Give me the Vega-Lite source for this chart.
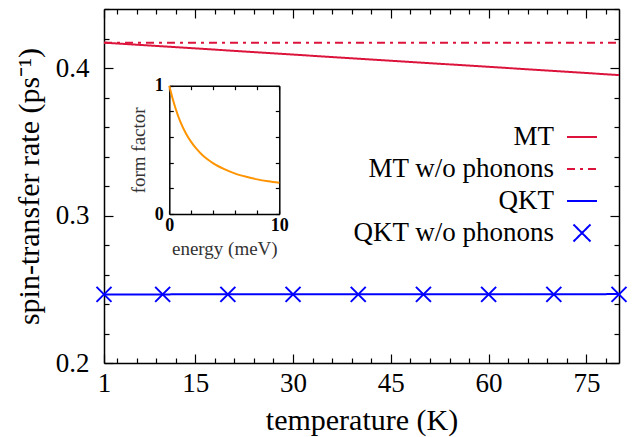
{
  "$schema": "https://vega.github.io/schema/vega-lite/v6.json",
  "width": 515,
  "height": 354,
  "autosize": "none",
  "padding": {"left": 104, "top": 9, "right": 15, "bottom": 74},
  "config": {
    "view": {"stroke": null},
    "font": "Liberation Serif",
    "axis": {
      "grid": false,
      "domainColor": "black",
      "domainWidth": 1.5,
      "tickColor": "black",
      "tickWidth": 1.2,
      "labelColor": "black",
      "titleColor": "black",
      "labelFont": "Liberation Serif",
      "titleFont": "Liberation Serif",
      "titleFontWeight": "normal"
    },
    "legend": {
      "labelFont": "Liberation Serif",
      "labelFontSize": 27,
      "labelColor": "black",
      "labelAlign": "right",
      "labelOffset": -44,
      "labelLimit": 500,
      "symbolSize": 900,
      "symbolStrokeWidth": 2,
      "symbolType": "stroke",
      "padding": 0,
      "rowPadding": 3
    }
  },
  "datasets": {
    "main": [
      {"T": 1, "rate": 0.4172, "series": "MT"},
      {"T": 20, "rate": 0.4119, "series": "MT"},
      {"T": 40, "rate": 0.4063, "series": "MT"},
      {"T": 60, "rate": 0.4008, "series": "MT"},
      {"T": 80, "rate": 0.3952, "series": "MT"},
      {"T": 1, "rate": 0.4172, "series": "MT w/o phonons"},
      {"T": 80, "rate": 0.4172, "series": "MT w/o phonons"},
      {"T": 1, "rate": 0.2465, "series": "QKT"},
      {"T": 80, "rate": 0.2467, "series": "QKT"}
    ],
    "markers": [
      {"T": 1, "rate": 0.2465, "series": "QKT w/o phonons"},
      {"T": 10, "rate": 0.2465, "series": "QKT w/o phonons"},
      {"T": 20, "rate": 0.2465, "series": "QKT w/o phonons"},
      {"T": 30, "rate": 0.2465, "series": "QKT w/o phonons"},
      {"T": 40, "rate": 0.2465, "series": "QKT w/o phonons"},
      {"T": 50, "rate": 0.2465, "series": "QKT w/o phonons"},
      {"T": 60, "rate": 0.2465, "series": "QKT w/o phonons"},
      {"T": 70, "rate": 0.2465, "series": "QKT w/o phonons"},
      {"T": 80, "rate": 0.2465, "series": "QKT w/o phonons"}
    ],
    "inset": [
      {"E": 0, "ff": 1.0},
      {"E": 0.3, "ff": 0.9},
      {"E": 0.6, "ff": 0.815},
      {"E": 1.0, "ff": 0.72},
      {"E": 1.5, "ff": 0.63},
      {"E": 2.0, "ff": 0.56},
      {"E": 2.5, "ff": 0.505},
      {"E": 3.0, "ff": 0.46},
      {"E": 3.5, "ff": 0.425},
      {"E": 4.0, "ff": 0.395},
      {"E": 5.0, "ff": 0.35},
      {"E": 6.0, "ff": 0.315},
      {"E": 7.0, "ff": 0.29},
      {"E": 8.0, "ff": 0.27},
      {"E": 9.0, "ff": 0.255},
      {"E": 10.0, "ff": 0.243}
    ]
  },
  "layer": [
    {
      "data": {"name": "main"},
      "mark": {"type": "line", "strokeWidth": 2},
      "encoding": {
        "x": {
          "field": "T", "type": "quantitative",
          "scale": {"domain": [1, 80], "nice": false, "zero": false},
          "axis": {
            "orient": "bottom",
            "title": "temperature (K)",
            "titleFontSize": 30,
            "titlePadding": 5,
            "values": [1, 3, 6, 9, 12, 15, 18, 21, 24, 27, 30, 33, 36, 39, 42, 45, 48, 51, 54, 57, 60, 63, 66, 69, 72, 75, 78],
            "labelExpr": "indexof([1, 15, 30, 45, 60, 75], datum.value) >= 0 ? datum.label : ''",
            "labelFontSize": 27,
            "labelPadding": 16,
            "labelFlush": false,
            "labelOverlap": false,
            "tickSize": {"condition": {"test": "datum.value % 15 == 0 || datum.value == 1", "value": -9}, "value": -5}
          }
        },
        "y": {
          "field": "rate", "type": "quantitative",
          "scale": {"domain": [0.2, 0.44], "nice": false, "zero": false},
          "axis": {
            "orient": "left",
            "title": "spin-transfer rate (ps⁻¹)",
            "titleFontSize": 30,
            "titlePadding": 11,
            "values": [0.2, 0.22, 0.24, 0.26, 0.28, 0.3, 0.32, 0.34, 0.36, 0.38, 0.4, 0.42, 0.44],
            "labelExpr": "abs(datum.value - 0.2) < 0.001 || abs(datum.value - 0.3) < 0.001 || abs(datum.value - 0.4) < 0.001 ? format(datum.value, '.1f') : ''",
            "labelFontSize": 27,
            "labelPadding": 24,
            "labelFlush": false,
            "labelOverlap": false,
            "tickSize": {"condition": {"test": "abs(datum.value - 0.2) < 0.001 || abs(datum.value - 0.3) < 0.001 || abs(datum.value - 0.4) < 0.001", "value": -9}, "value": -5}
          }
        },
        "color": {
          "field": "series", "type": "nominal",
          "scale": {"domain": ["MT", "MT w/o phonons", "QKT", "QKT w/o phonons"], "range": ["#dc143c", "#dc143c", "#0000ff", "#0000ff"]},
          "legend": {
            "title": null,
            "orient": "none",
            "legendX": 462,
            "legendY": 112,
            "encode": {
              "symbols": {
                "update": {
                  "shape": {"signal": "datum.value == 'QKT w/o phonons' ? 'M-1,-1L1,1M1,-1L-1,1' : 'stroke'"},
                  "size": {"signal": "datum.value == 'QKT w/o phonons' ? 289 : 900"},
                  "strokeDash": {"signal": "datum.value == 'MT w/o phonons' ? [8, 5, 3, 5] : [1, 0]"},
                  "strokeWidth": {"value": 2},
                  "fill": {"value": "transparent"}
                }
              }
            }
          }
        },
        "strokeDash": {
          "field": "series", "type": "nominal",
          "scale": {"domain": ["MT", "MT w/o phonons", "QKT", "QKT w/o phonons"], "range": [[1, 0], [8, 5, 3, 5], [1, 0], [1, 0]]},
          "legend": null
        }
      }
    },
    {
      "data": {"name": "markers"},
      "mark": {"type": "point", "shape": "M-1,-1L1,1M1,-1L-1,1", "filled": false, "size": 225, "strokeWidth": 2, "opacity": 1},
      "encoding": {
        "x": {
          "field": "T", "type": "quantitative",
          "scale": {"domain": [1, 80], "nice": false, "zero": false},
          "axis": {
            "orient": "top",
            "title": null,
            "values": [1, 3, 6, 9, 12, 15, 18, 21, 24, 27, 30, 33, 36, 39, 42, 45, 48, 51, 54, 57, 60, 63, 66, 69, 72, 75, 78],
            "labels": false,
            "tickSize": {"condition": {"test": "datum.value % 15 == 0 || datum.value == 1", "value": -9}, "value": -5}
          }
        },
        "y": {
          "field": "rate", "type": "quantitative",
          "scale": {"domain": [0.2, 0.44], "nice": false, "zero": false},
          "axis": {
            "orient": "right",
            "title": null,
            "values": [0.2, 0.22, 0.24, 0.26, 0.28, 0.3, 0.32, 0.34, 0.36, 0.38, 0.4, 0.42, 0.44],
            "labels": false,
            "tickSize": {"condition": {"test": "abs(datum.value - 0.2) < 0.001 || abs(datum.value - 0.3) < 0.001 || abs(datum.value - 0.4) < 0.001", "value": -9}, "value": -5}
          }
        },
        "color": {"field": "series", "type": "nominal"}
      }
    },
    {
      "data": {"name": "inset"},
      "mark": {"type": "line", "color": "#ff9400", "strokeWidth": 2, "interpolate": "monotone"},
      "encoding": {
        "x": {
          "field": "E", "type": "quantitative",
          "scale": {"domain": [0, 10], "nice": false, "zero": false, "range": [65.3, 175.3]},
          "axis": {
            "orient": "bottom",
            "offset": -149,
            "title": "energy (meV)",
            "titleFontSize": 19,
            "titleColor": "#333",
            "titlePadding": 5,
            "values": [0, 2, 4, 6, 8, 10],
            "labelExpr": "datum.value == 0 ? '0' : datum.value == 10 ? '10' : ''",
            "labelFontSize": 18,
            "labelFontWeight": "bold",
            "labelPadding": 6,
            "labelFlush": false,
            "labelOverlap": false,
            "tickSize": -4
          }
        },
        "y": {
          "field": "ff", "type": "quantitative",
          "scale": {"domain": [0, 1], "nice": false, "zero": false, "range": [205, 76.7]},
          "axis": {
            "orient": "left",
            "offset": -65.3,
            "title": "form factor",
            "titleFontSize": 19,
            "titleColor": "#333",
            "titlePadding": 6,
            "values": [0, 0.2, 0.4, 0.6, 0.8, 1],
            "labelExpr": "datum.value == 0 ? '0' : datum.value == 1 ? '1' : ''",
            "labelFontSize": 18,
            "labelFontWeight": "bold",
            "labelPadding": 10,
            "labelFlush": false,
            "labelOverlap": false,
            "tickSize": -4
          }
        }
      }
    },
    {
      "data": {"name": "inset"},
      "mark": {"type": "line", "color": "#ff9400", "strokeWidth": 2, "opacity": 0},
      "encoding": {
        "x": {
          "field": "E", "type": "quantitative",
          "scale": {"domain": [0, 10], "nice": false, "zero": false, "range": [65.3, 175.3]},
          "axis": {
            "orient": "top",
            "offset": -76.7,
            "title": null,
            "values": [0, 2, 4, 6, 8, 10],
            "labels": false,
            "tickSize": -4
          }
        },
        "y": {
          "field": "ff", "type": "quantitative",
          "scale": {"domain": [0, 1], "nice": false, "zero": false, "range": [205, 76.7]},
          "axis": {
            "orient": "right",
            "offset": -339.7,
            "title": null,
            "values": [0, 0.2, 0.4, 0.6, 0.8, 1],
            "labels": false,
            "tickSize": -4
          }
        }
      }
    }
  ],
  "resolve": {
    "scale": {"x": "independent", "y": "independent"},
    "axis": {"x": "independent", "y": "independent"}
  }
}
